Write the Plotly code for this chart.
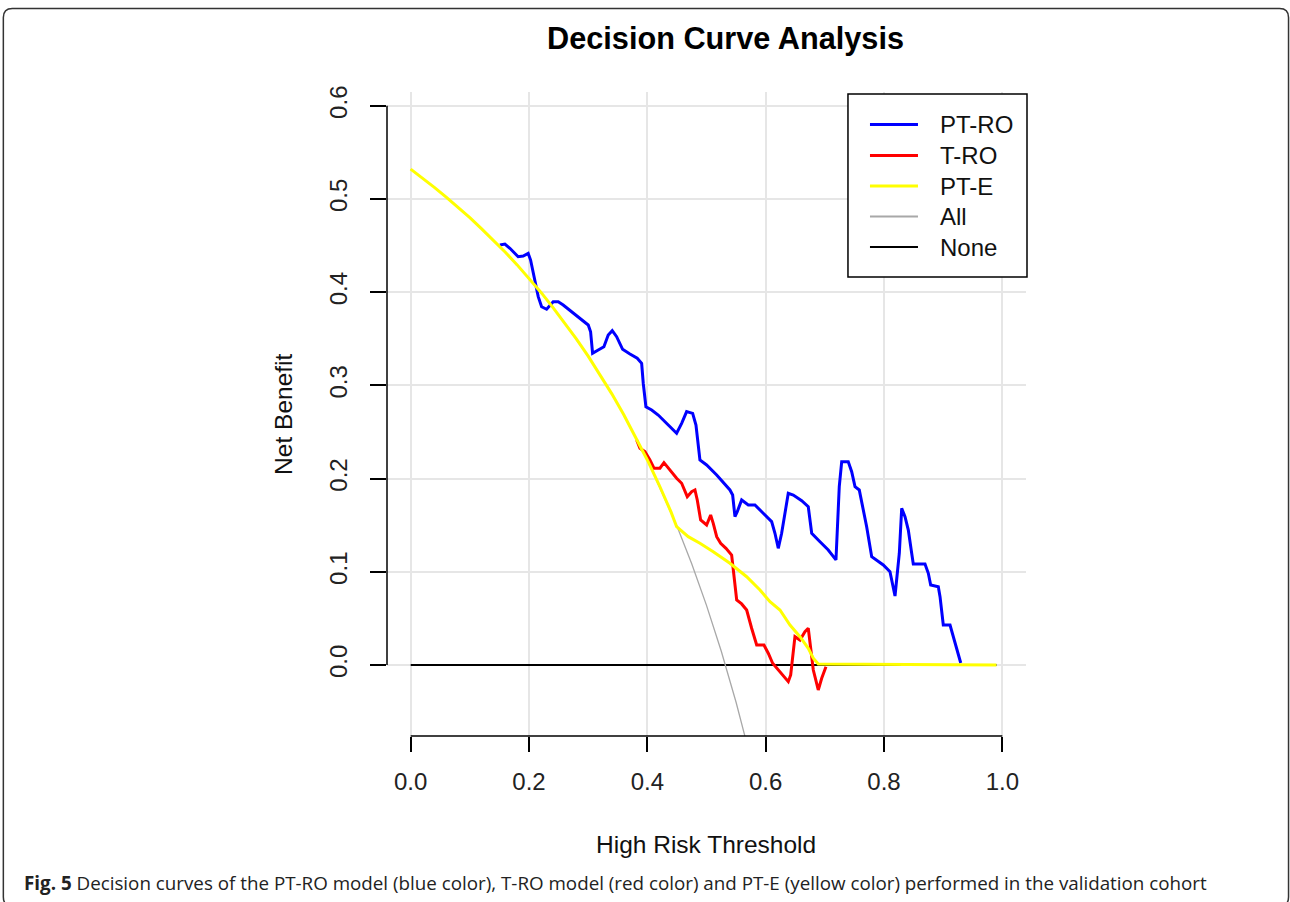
import plotly.graph_objects as go

# ---------------- data ----------------
pt_ro_x = [0.1508, 0.1593, 0.1677, 0.1817, 0.1902, 0.1986, 0.2027, 0.2100, 0.2156, 0.2213,
           0.2298, 0.2409, 0.2494, 0.2578, 0.2747, 0.2889, 0.3001, 0.3041, 0.3075, 0.3170,
           0.3266, 0.3339, 0.3407, 0.3481, 0.3582, 0.3706, 0.3829, 0.3904, 0.3931, 0.3976,
           0.4073, 0.4184, 0.4326, 0.4495, 0.4580, 0.4664, 0.4766, 0.4822, 0.4889, 0.5002,
           0.5172, 0.5396, 0.5442, 0.5481, 0.5520, 0.5594, 0.5706, 0.5819, 0.5959, 0.6101,
           0.6157, 0.6213, 0.6270, 0.6343, 0.6382, 0.6467, 0.6609, 0.6720, 0.6778, 0.6918,
           0.7058, 0.7188, 0.7244, 0.7285, 0.7396, 0.7454, 0.7510, 0.7582, 0.7650, 0.7707,
           0.7792, 0.7877, 0.7988, 0.8101, 0.8147, 0.8186, 0.8259, 0.8299, 0.8355, 0.8411,
           0.8468, 0.8495, 0.8693, 0.8749, 0.8789, 0.8918, 0.8947, 0.9002, 0.9116, 0.9172,
           0.9239, 0.9297]
pt_ro_y = [0.4506, 0.4517, 0.4471, 0.4381, 0.4388, 0.4417, 0.4345, 0.4131, 0.3952, 0.3844,
           0.3817, 0.3898, 0.3898, 0.3863, 0.3774, 0.3702, 0.3648, 0.3576, 0.3344, 0.3380,
           0.3415, 0.3541, 0.3587, 0.3523, 0.3387, 0.3337, 0.3291, 0.3237, 0.3023, 0.2771,
           0.2736, 0.2682, 0.2593, 0.2486, 0.2593, 0.2718, 0.2700, 0.2575, 0.2200, 0.2146,
           0.2039, 0.1878, 0.1824, 0.1591, 0.1645, 0.1770, 0.1717, 0.1717, 0.1628, 0.1538,
           0.1413, 0.1252, 0.1413, 0.1698, 0.1842, 0.1824, 0.1763, 0.1698, 0.1413, 0.1323,
           0.1234, 0.1127, 0.1913, 0.2181, 0.2181, 0.2074, 0.1913, 0.1878, 0.1681, 0.1484,
           0.1162, 0.1127, 0.1073, 0.1001, 0.0877, 0.0740, 0.1199, 0.1681, 0.1591, 0.1448,
           0.1199, 0.1084, 0.1084, 0.0984, 0.0858, 0.0840, 0.0733, 0.0429, 0.0429, 0.0304,
           0.0126, 0.0021]

t_ro_x = [0.3819, 0.3875, 0.3959, 0.4044, 0.4112, 0.4213, 0.4281, 0.4382, 0.4495, 0.4580,
          0.4675, 0.4749, 0.4805, 0.4844, 0.4901, 0.5002, 0.5070, 0.5114, 0.5172, 0.5239,
          0.5329, 0.5425, 0.5481, 0.5510, 0.5594, 0.5679, 0.5763, 0.5848, 0.5971, 0.6044,
          0.6118, 0.6213, 0.6298, 0.6382, 0.6423, 0.6495, 0.6580, 0.6664, 0.6720, 0.6761,
          0.6805, 0.6889, 0.6947, 0.7019]
t_ro_y = [0.2414, 0.2325, 0.2289, 0.2200, 0.2111, 0.2111, 0.2171, 0.2092, 0.2003, 0.1950,
          0.1806, 0.1859, 0.1878, 0.1770, 0.1556, 0.1502, 0.1609, 0.1520, 0.1377, 0.1306,
          0.1252, 0.1180, 0.0840, 0.0697, 0.0655, 0.0590, 0.0394, 0.0215, 0.0215, 0.0126,
          0.0018, -0.0054, -0.0118, -0.0179, -0.0107, 0.0304, 0.0268, 0.0357, 0.0394, 0.0196,
          -0.0054, -0.0268, -0.0143, -0.0018]

pt_e_x = [0.00, 0.02, 0.04, 0.06, 0.08, 0.10, 0.12, 0.14, 0.16, 0.18,
          0.20, 0.22, 0.24, 0.26, 0.28, 0.30, 0.32, 0.34, 0.36, 0.38,
          0.40, 0.42, 0.44, 0.4495, 0.4691, 0.4889, 0.5114, 0.5396, 0.5679, 0.5904,
          0.6073, 0.6242, 0.6411, 0.6580, 0.6720, 0.6805, 0.6889, 0.99]
pt_e_y = [0.532, 0.5225, 0.5125, 0.502, 0.4913, 0.480, 0.468, 0.4558, 0.4429, 0.4293,
          0.415, 0.400, 0.384, 0.3676, 0.350, 0.3314, 0.3118, 0.2909, 0.2688, 0.2452,
          0.220, 0.1931, 0.1643, 0.1484, 0.1377, 0.1306, 0.1216, 0.1091, 0.0947, 0.0805,
          0.0679, 0.0590, 0.0429, 0.0304, 0.0179, 0.0072, 0.0011, 0.0]

all_x = [0.00, 0.05, 0.10, 0.15, 0.20, 0.25, 0.30, 0.35, 0.40, 0.45, 0.475, 0.50, 0.525, 0.55, 0.575]
all_y = [0.532, 0.5074, 0.480, 0.4494, 0.415, 0.376, 0.3314, 0.280, 0.220, 0.149, 0.1086, 0.064,
         0.0147, -0.040, -0.101]

none_x = [0.0, 0.99]
none_y = [0.0, 0.0]

x_ticks = [0.0, 0.2, 0.4, 0.6, 0.8, 1.0]
x_tick_labels = ["0.0", "0.2", "0.4", "0.6", "0.8", "1.0"]
y_ticks = [0.0, 0.1, 0.2, 0.3, 0.4, 0.5, 0.6]
y_tick_labels = ["0.0", "0.1", "0.2", "0.3", "0.4", "0.5", "0.6"]

legend_names = ["PT-RO", "T-RO", "PT-E", "All", "None"]
legend_colors = ["#0000ff", "#ff0000", "#ffff00", "#a8a8a8", "#000000"]
legend_widths = [3, 3, 3, 2, 2]

# ---------------- layout geometry (pixels) ----------------
W, H = 1290, 902
L, R, T, B = 387.1, 1026.0, 92.0, 736.0
FONT = "Liberation Sans, Arial, sans-serif"


def px(x):
    return (x - L) / (R - L)


def py(y):
    return (B - y) / (B - T)


fig = go.Figure()
fig.add_trace(go.Scatter(x=none_x, y=none_y, mode="lines", line=dict(color="#000000", width=2),
                         name="None", showlegend=False, hoverinfo="skip"))
fig.add_trace(go.Scatter(x=all_x, y=all_y, mode="lines", line=dict(color="#a8a8a8", width=1.3),
                         name="All", showlegend=False, hoverinfo="skip"))
fig.add_trace(go.Scatter(x=pt_ro_x, y=pt_ro_y, mode="lines", line=dict(color="#0000ff", width=3),
                         name="PT-RO", showlegend=False))
fig.add_trace(go.Scatter(x=t_ro_x, y=t_ro_y, mode="lines", line=dict(color="#ff0000", width=3),
                         name="T-RO", showlegend=False))
fig.add_trace(go.Scatter(x=pt_e_x, y=pt_e_y, mode="lines", line=dict(color="#ffff00", width=3),
                         name="PT-E", showlegend=False))

shapes = []
annotations = []

# axis lines (R style: only between first and last tick)
shapes.append(dict(type="line", xref="x domain", yref="y", x0=0, x1=0, y0=y_ticks[0], y1=y_ticks[-1],
                   line=dict(color="#000000", width=1.5)))
shapes.append(dict(type="line", xref="x", yref="y domain", x0=x_ticks[0], x1=x_ticks[-1], y0=0, y1=0,
                   line=dict(color="#000000", width=1.5)))

# legend box
shapes.append(dict(type="rect", xref="paper", yref="paper", x0=px(848), x1=px(1027), y0=py(277), y1=py(94),
                   line=dict(color="#000000", width=1.5), fillcolor="rgba(255,255,255,1)", layer="above"))
row_y = [124.5, 155.5, 186, 216.5, 247]
for i, name in enumerate(legend_names):
    shapes.append(dict(type="line", xref="paper", yref="paper", x0=px(870), x1=px(918),
                       y0=py(row_y[i]), y1=py(row_y[i]),
                       line=dict(color=legend_colors[i], width=legend_widths[i]), layer="above"))
    annotations.append(dict(text=name, xref="paper", yref="paper", x=px(938), y=py(row_y[i]),
                            xanchor="left", yanchor="middle", showarrow=False,
                            font=dict(family=FONT, size=24, color="#111111")))

# frame around the whole figure (rounded corners; bottom edge falls just below the canvas)
r = 9
fl, ft, fr, fb = 3.5, 8.5, 1288.5, 906
path = (f"M {px(fl)},{py(fb - r)} L {px(fl)},{py(ft + r)} Q {px(fl)},{py(ft)} {px(fl + r)},{py(ft)} "
        f"L {px(fr - r)},{py(ft)} Q {px(fr)},{py(ft)} {px(fr)},{py(ft + r)} L {px(fr)},{py(fb - r)} "
        f"Q {px(fr)},{py(fb)} {px(fr - r)},{py(fb)} L {px(fl + r)},{py(fb)} "
        f"Q {px(fl)},{py(fb)} {px(fl)},{py(fb - r)} Z")
shapes.append(dict(type="path", xref="paper", yref="paper", path=path,
                   line=dict(color="#333333", width=1.5)))

# title
annotations.append(dict(text="<b>Decision Curve Analysis</b>", xref="paper", yref="paper",
                        x=px(725.5), y=py(38), xanchor="center", yanchor="middle", showarrow=False,
                        font=dict(family=FONT, size=30.7, color="#000000")))
# axis titles
annotations.append(dict(text="High Risk Threshold", xref="paper", yref="paper",
                        x=px(706), y=py(844), xanchor="center", yanchor="middle", showarrow=False,
                        font=dict(family=FONT, size=24.5, color="#111111")))
annotations.append(dict(text="Net Benefit", xref="paper", yref="paper", textangle=-90,
                        x=px(283), y=py(414), xanchor="center", yanchor="middle", showarrow=False,
                        font=dict(family=FONT, size=24.5, color="#111111")))
# caption
annotations.append(dict(text="<b>Fig. 5</b> Decision curves of the PT-RO model (blue color), T-RO model (red color) "
                             "and PT-E (yellow color) performed in the validation cohort",
                        xref="paper", yref="paper", x=px(22), y=py(883), xanchor="left", yanchor="middle",
                        showarrow=False, font=dict(family="Open Sans, sans-serif", size=18.8, color="#222222")))

fig.update_layout(
    width=W, height=H,
    margin=dict(l=L, r=W - R, t=T, b=H - B, pad=0),
    paper_bgcolor="#ffffff", plot_bgcolor="#ffffff",
    showlegend=False,
    shapes=shapes, annotations=annotations,
    xaxis=dict(range=[-0.04, 1.04], tickvals=x_ticks, ticktext=x_tick_labels,
               showgrid=True, gridcolor="#e6e6e6", gridwidth=1.5, zeroline=False, showline=False,
               ticks="outside", ticklen=15, tickwidth=1.5, tickcolor="#000000",
               tickfont=dict(family=FONT, size=24, color="#222222"), ticklabelstandoff=9),
    yaxis=dict(range=[-0.0762, 0.6148], tickvals=y_ticks, ticktext=y_tick_labels,
               showgrid=True, gridcolor="#e6e6e6", gridwidth=1.5, zeroline=False, showline=False,
               ticks="outside", ticklen=16, tickwidth=1.5, tickcolor="#000000", tickangle=-90,
               tickfont=dict(family=FONT, size=24, color="#222222"), ticklabelstandoff=13),
)

fig.write_html("out.html", config={"displayModeBar": False},
               post_script="document.body.style.margin='0';document.body.style.overflow='hidden';")
